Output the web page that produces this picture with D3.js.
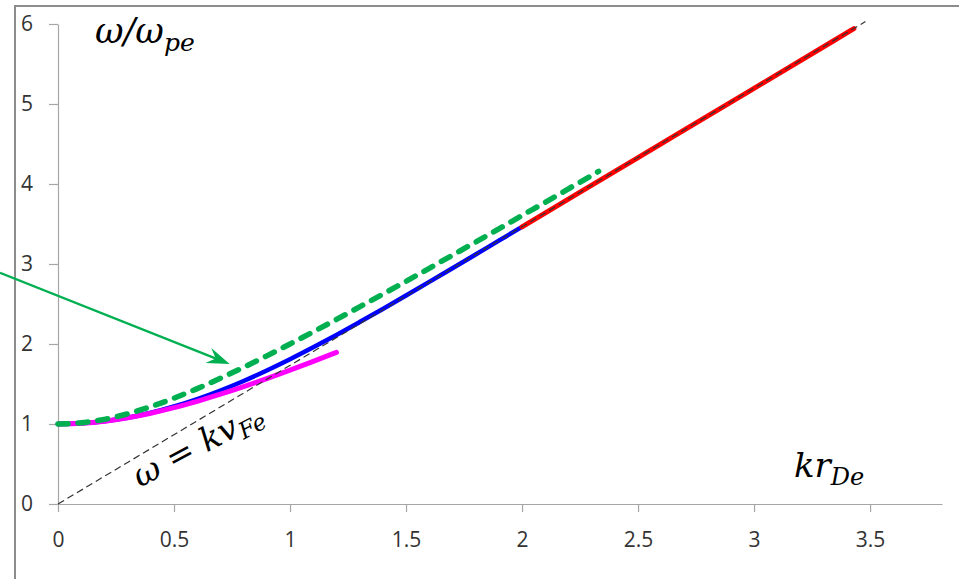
<!DOCTYPE html>
<html><head><meta charset="utf-8">
<script src="https://cdn.jsdelivr.net/npm/d3@7"></script>
<style>
html,body{margin:0;padding:0;background:#fff;}
svg{display:block;}
</style></head>
<body>
<script>
// ---- data ----
const xTicks = [0, 0.5, 1, 1.5, 2, 2.5, 3, 3.5];
const yTicks = [0, 1, 2, 3, 4, 5, 6];

// green dashed: fluid approximation
const kGreen = [0,0.1,0.2,0.3,0.4,0.5,0.6,0.7,0.8,0.9,1.0,1.1,1.2,1.3,1.4,1.5,1.6,1.7,1.8,1.9,2.0,2.1,2.2,2.3,2.33];
const wGreen = [1.000,1.015,1.058,1.127,1.217,1.323,1.442,1.572,1.709,1.852,2.000,2.152,2.307,2.464,2.623,2.784,2.946,3.110,3.274,3.439,3.606,3.772,3.940,4.107,4.158];

// blue solid: exact dispersion (k <= 2)
const kBlue = [0,0.1,0.2,0.3,0.4,0.5,0.6,0.7,0.8,0.9,1.0,1.1,1.2,1.3,1.4,1.5,1.6,1.7,1.8,1.9,2.0];
const wBlue = [1.000,1.009,1.035,1.078,1.140,1.219,1.312,1.419,1.538,1.669,1.809,1.958,2.113,2.274,2.438,2.606,2.776,2.947,3.119,3.292,3.464];

// red solid: exact dispersion (k >= 2)
const kRed = [2.0,2.5,3.0,3.43];
const wRed = [3.464,4.330,5.196,5.941];

// magenta: small-k expansion
const kMag = [0,0.1,0.2,0.3,0.4,0.5,0.6,0.7,0.8,0.9,1.0,1.1,1.2];
const wMag = [1.000,1.009,1.035,1.078,1.135,1.204,1.284,1.372,1.467,1.568,1.673,1.783,1.895];

// black dashed: omega = k v_Fe
const kLine = [0, 3.48];
const wLine = [0, 6.03];

// arrow annotation (data coords)
const arrowFrom = [-0.25, 2.89];
const arrowTo = [0.74, 1.75];

// ---- drawing ----
const W = 959, H = 579;
const svg = d3.select("body").append("svg").attr("width", W).attr("height", H);
svg.append("rect").attr("width", W).attr("height", H).attr("fill", "#fff");

// outer frame (cropped)
svg.append("rect").attr("x", 15).attr("y", 6).attr("width", 1200).attr("height", 1200)
  .attr("fill", "none").attr("stroke", "#8c8c8c").attr("stroke-width", 2);

const x = d3.scaleLinear().domain([0, 3.81]).range([58, 942]);
const y = d3.scaleLinear().domain([0, 6]).range([504, 24]);

const gx = svg.append("g").attr("transform", `translate(0,${y(0)})`)
  .call(d3.axisBottom(x).tickValues(xTicks).tickSize(8).tickSizeOuter(0).tickPadding(20).tickFormat(d => String(d)));
const gy = svg.append("g").attr("transform", `translate(${x(0)},0)`)
  .call(d3.axisLeft(y).tickValues(yTicks).tickSize(9).tickSizeOuter(0).tickPadding(16).tickFormat(d => String(d)));
[gx, gy].forEach(g => {
  g.select(".domain").attr("stroke", "#a6a6a6").attr("stroke-width", 1.2);
  g.selectAll(".tick line").attr("stroke", "#a6a6a6").attr("stroke-width", 1.2);
  g.selectAll(".tick text").attr("fill", "#333").attr("font-family", "'Open Sans', sans-serif").attr("font-size", 21);
});

function series(ks, ws) { return ks.map((k, i) => [k, ws[i]]); }
const line = d3.line().x(d => x(d[0])).y(d => y(d[1])).curve(d3.curveMonotoneX);

const plot = svg.append("g");
plot.append("path").datum(series(kBlue, wBlue)).attr("d", line)
  .attr("fill", "none").attr("stroke", "#0000ff").attr("stroke-width", 4.5).attr("stroke-linecap", "round");
plot.append("path").datum(series(kRed, wRed)).attr("d", line)
  .attr("fill", "none").attr("stroke", "#ff0000").attr("stroke-width", 5).attr("stroke-linecap", "round");
plot.append("path").datum(series(kMag, wMag)).attr("d", line)
  .attr("fill", "none").attr("stroke", "#ff00ff").attr("stroke-width", 5).attr("stroke-linecap", "round");
plot.append("path").datum(series(kLine, wLine)).attr("d", d3.line().x(d => x(d[0])).y(d => y(d[1])))
  .attr("fill", "none").attr("stroke", "#333").attr("stroke-width", 1.2).attr("stroke-dasharray", "7 4");
plot.append("path").datum(series(kGreen, wGreen)).attr("d", line)
  .attr("fill", "none").attr("stroke", "#00b050").attr("stroke-width", 5.5).attr("stroke-linecap", "round")
  .attr("stroke-dasharray", "10 10");

// arrow
const ax0 = x(arrowFrom[0]), ay0 = y(arrowFrom[1]), ax1 = x(arrowTo[0]), ay1 = y(arrowTo[1]);
const len = Math.hypot(ax1 - ax0, ay1 - ay0);
const ux = (ax1 - ax0) / len, uy = (ay1 - ay0) / len;
const nx = -uy, ny = ux;
svg.append("line").attr("x1", ax0).attr("y1", ay0).attr("x2", ax1 - 14 * ux).attr("y2", ay1 - 14 * uy)
  .attr("stroke", "#00b050").attr("stroke-width", 2.3);
const head = [
  [ax1, ay1],
  [ax1 - 23 * ux + 8 * nx, ay1 - 23 * uy + 8 * ny],
  [ax1 - 15 * ux, ay1 - 15 * uy],
  [ax1 - 23 * ux - 8 * nx, ay1 - 23 * uy - 8 * ny]
];
svg.append("path").attr("d", "M" + head.map(p => p.join(",")).join("L") + "Z").attr("fill", "#00b050");

// labels
const serif = "'DejaVu Serif', 'Liberation Serif', serif";
const t1 = svg.append("text").attr("x", 95).attr("y", 43).attr("font-family", serif)
  .attr("font-style", "italic").attr("font-size", 35).attr("fill", "#000");
t1.append("tspan").text("ω/ω");
t1.append("tspan").attr("font-size", 25).attr("dy", 8).text("pe");

const t2 = svg.append("text").attr("x", 794).attr("y", 477).attr("font-family", serif)
  .attr("font-style", "italic").attr("font-size", 34).attr("fill", "#000");
t2.append("tspan").text("kr");
t2.append("tspan").attr("font-size", 24).attr("dy", 8).text("De");

const t3 = svg.append("text").attr("transform", "translate(140,488) rotate(-28)")
  .attr("font-family", serif).attr("font-style", "italic").attr("font-size", 33).attr("fill", "#000");
t3.append("tspan").text("ω = kv");
t3.append("tspan").attr("font-size", 23).attr("dy", 6).text("Fe");
</script>
</body></html>
